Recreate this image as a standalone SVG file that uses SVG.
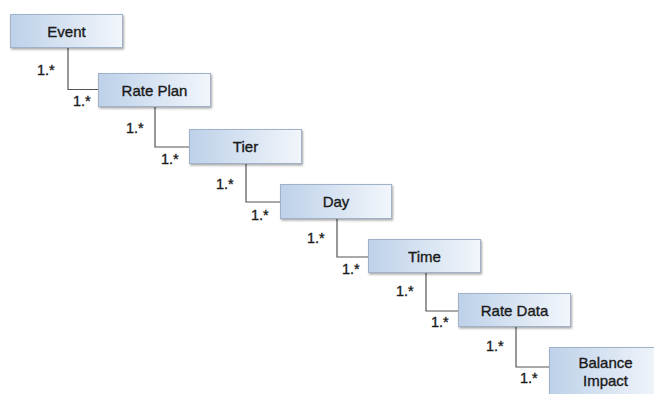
<svg xmlns="http://www.w3.org/2000/svg" width="654" height="394" viewBox="0 0 654 394">
<defs>
<linearGradient id="g" x1="0" y1="0" x2="1" y2="0">
<stop offset="0" stop-color="#bdd1e9"/>
<stop offset="1" stop-color="#f2f6fb"/>
</linearGradient>
<filter id="sh" x="-10%" y="-10%" width="130%" height="140%">
<feDropShadow dx="1" dy="1.5" stdDeviation="0.8" flood-color="#000" flood-opacity="0.35"/>
</filter>
<style>
.box{fill:url(#g);stroke:#9fb2c9;stroke-width:1;filter:url(#sh)}
.t{font-family:"Liberation Sans",Arial,sans-serif;font-size:15px;fill:#1a1a1a;stroke:#1a1a1a;stroke-width:0.35;text-anchor:middle}
.m{font-family:"Liberation Sans",Arial,sans-serif;font-size:14.5px;fill:#1a1a1a;stroke:#1a1a1a;stroke-width:0.35}
.c{fill:none;stroke:#555;stroke-width:1.2}
</style>
</defs>
<rect width="654" height="394" fill="#fff"/>
<g id="connectors">
<path class="c" d="M68,47 V89.5 H98"/>
<path class="c" d="M155,106 V147 H189"/>
<path class="c" d="M246,164 V202 H280"/>
<path class="c" d="M337,219 V257 H368"/>
<path class="c" d="M426,273 V311 H458"/>
<path class="c" d="M516,327 V367 H549"/>
<text class="m" x="37" y="75">1.*</text>
<text class="m" x="73" y="106">1.*</text>
<text class="m" x="126" y="133">1.*</text>
<text class="m" x="161" y="164">1.*</text>
<text class="m" x="216" y="189">1.*</text>
<text class="m" x="251" y="220">1.*</text>
<text class="m" x="307" y="243">1.*</text>
<text class="m" x="342" y="274">1.*</text>
<text class="m" x="396" y="296">1.*</text>
<text class="m" x="431" y="327">1.*</text>
<text class="m" x="486" y="351">1.*</text>
<text class="m" x="520" y="383">1.*</text>
</g>
<g id="event"><rect class="box" x="10.5" y="14.5" width="112" height="33"/><text class="t" x="66.5" y="36.5">Event</text></g>
<g id="rate-plan"><rect class="box" x="98.5" y="73.5" width="112" height="33"/><text class="t" x="154.5" y="95.5">Rate Plan</text></g>
<g id="tier"><rect class="box" x="189.5" y="129.5" width="112" height="34"/><text class="t" x="245.5" y="152">Tier</text></g>
<g id="day"><rect class="box" x="280.5" y="184.5" width="111" height="34"/><text class="t" x="336" y="207">Day</text></g>
<g id="time"><rect class="box" x="368.5" y="239.5" width="112" height="33"/><text class="t" x="424.5" y="261.5">Time</text></g>
<g id="rate-data"><rect class="box" x="458.5" y="293.5" width="112" height="33"/><text class="t" x="514.5" y="315.5">Rate Data</text></g>
<g id="balance-impact"><rect class="box" x="549.5" y="347.5" width="112" height="50"/><text class="t" x="605.5" y="368">Balance</text><text class="t" x="605.5" y="386">Impact</text></g>
</svg>
